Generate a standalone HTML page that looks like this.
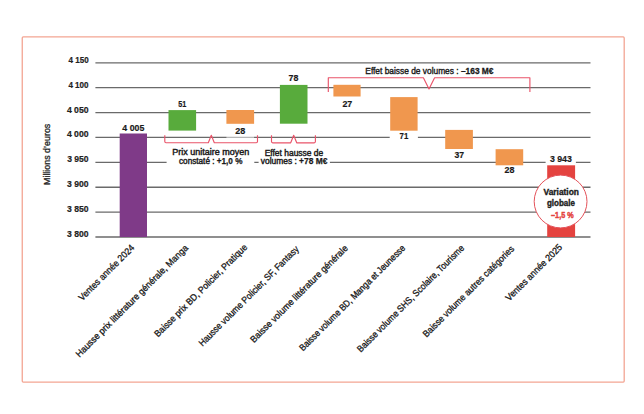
<!DOCTYPE html><html><head><meta charset="utf-8"><style>html,body{margin:0;padding:0;background:#fff;width:644px;height:414px;overflow:hidden}svg{display:block}</style></head><body>
<svg width="644" height="414" viewBox="0 0 644 414" font-family='"Liberation Sans", sans-serif'>
<rect x="0" y="0" width="644" height="414" fill="#fff"/>
<rect x="22.25" y="36.9" width="601.95" height="345.2" rx="1" fill="none" stroke="#F3A593" stroke-width="1.3"/>
<text transform="translate(50.2,185) rotate(-90)" font-size="8.6" textLength="61.3" lengthAdjust="spacingAndGlyphs" fill="#222" stroke="#222" stroke-width="0.3">Millions d’euros</text>
<line x1="95.4" y1="62.80" x2="590.5" y2="62.80" stroke="#6a6a6a" stroke-width="1.3"/>
<text x="68.50" y="62.80" font-size="9.2" font-weight="bold" textLength="20.1" lengthAdjust="spacingAndGlyphs" fill="#222" stroke="#222" stroke-width="0.2">4 150</text>
<line x1="95.4" y1="87.69" x2="590.5" y2="87.69" stroke="#6a6a6a" stroke-width="1.3"/>
<text x="68.40" y="87.69" font-size="9.2" font-weight="bold" textLength="20.2" lengthAdjust="spacingAndGlyphs" fill="#222" stroke="#222" stroke-width="0.2">4 100</text>
<line x1="95.4" y1="112.57" x2="590.5" y2="112.57" stroke="#6a6a6a" stroke-width="1.3"/>
<text x="66.90" y="112.57" font-size="9.2" font-weight="bold" textLength="21.7" lengthAdjust="spacingAndGlyphs" fill="#222" stroke="#222" stroke-width="0.2">4 050</text>
<line x1="95.4" y1="137.45" x2="590.5" y2="137.45" stroke="#6a6a6a" stroke-width="1.3"/>
<text x="66.90" y="137.45" font-size="9.2" font-weight="bold" textLength="21.7" lengthAdjust="spacingAndGlyphs" fill="#222" stroke="#222" stroke-width="0.2">4 000</text>
<line x1="95.4" y1="162.34" x2="590.5" y2="162.34" stroke="#6a6a6a" stroke-width="1.3"/>
<text x="67.20" y="162.34" font-size="9.2" font-weight="bold" textLength="21.4" lengthAdjust="spacingAndGlyphs" fill="#222" stroke="#222" stroke-width="0.2">3 950</text>
<line x1="95.4" y1="187.23" x2="590.5" y2="187.23" stroke="#6a6a6a" stroke-width="1.3"/>
<text x="67.10" y="187.23" font-size="9.2" font-weight="bold" textLength="21.5" lengthAdjust="spacingAndGlyphs" fill="#222" stroke="#222" stroke-width="0.2">3 900</text>
<line x1="95.4" y1="212.11" x2="590.5" y2="212.11" stroke="#6a6a6a" stroke-width="1.3"/>
<text x="67.10" y="212.11" font-size="9.2" font-weight="bold" textLength="21.5" lengthAdjust="spacingAndGlyphs" fill="#222" stroke="#222" stroke-width="0.2">3 850</text>
<line x1="95.4" y1="237.00" x2="590.5" y2="237.00" stroke="#6a6a6a" stroke-width="1.3"/>
<text x="67.10" y="237.00" font-size="9.2" font-weight="bold" textLength="21.5" lengthAdjust="spacingAndGlyphs" fill="#222" stroke="#222" stroke-width="0.2">3 800</text>
<rect x="166.6" y="160.34" width="87.7" height="4" fill="#fff"/>
<rect x="258.6" y="160.34" width="71.3" height="4" fill="#fff"/>
<rect x="226.4" y="135.45" width="27.7" height="4" fill="#fff" fill-opacity="0.5"/>
<rect x="389.7" y="135.45" width="28.2" height="4" fill="#fff"/>
<rect x="545.6" y="160.34" width="30.3" height="4" fill="#fff"/>
<rect x="119.7" y="133.5" width="27.30" height="103.50" fill="#7F3A88"/>
<rect x="168.5" y="110.1" width="27.60" height="20.50" fill="#58AB3C"/>
<rect x="226.4" y="110.0" width="27.70" height="13.80" fill="#F0974E"/>
<rect x="279.9" y="84.9" width="27.60" height="38.80" fill="#58AB3C"/>
<rect x="333.4" y="84.8" width="27.20" height="11.70" fill="#F0974E"/>
<rect x="390.2" y="97.1" width="27.40" height="33.60" fill="#F0974E"/>
<rect x="445.2" y="129.9" width="27.70" height="19.10" fill="#F0974E"/>
<rect x="495.6" y="149.2" width="27.60" height="16.10" fill="#F0974E"/>
<rect x="547.2" y="165.3" width="27.90" height="71.70" fill="#E4433F"/>
<text x="122.30" y="130.50" font-size="9.6" font-weight="bold" textLength="22.00" lengthAdjust="spacingAndGlyphs" fill="#1a1a1a" stroke="#1a1a1a" stroke-width="0.2">4 005</text>
<text x="178.30" y="107.20" font-size="9.6" font-weight="bold" textLength="8.10" lengthAdjust="spacingAndGlyphs" fill="#1a1a1a" stroke="#1a1a1a" stroke-width="0.2">51</text>
<text x="235.30" y="134.00" font-size="9.6" font-weight="bold" textLength="10.00" lengthAdjust="spacingAndGlyphs" fill="#1a1a1a" stroke="#1a1a1a" stroke-width="0.2">28</text>
<text x="288.50" y="80.90" font-size="9.6" font-weight="bold" textLength="9.80" lengthAdjust="spacingAndGlyphs" fill="#1a1a1a" stroke="#1a1a1a" stroke-width="0.2">78</text>
<text x="342.40" y="106.60" font-size="9.6" font-weight="bold" textLength="9.90" lengthAdjust="spacingAndGlyphs" fill="#1a1a1a" stroke="#1a1a1a" stroke-width="0.2">27</text>
<text x="399.60" y="139.20" font-size="9.6" font-weight="bold" textLength="8.70" lengthAdjust="spacingAndGlyphs" fill="#1a1a1a" stroke="#1a1a1a" stroke-width="0.2">71</text>
<text x="454.40" y="158.00" font-size="9.6" font-weight="bold" textLength="9.60" lengthAdjust="spacingAndGlyphs" fill="#1a1a1a" stroke="#1a1a1a" stroke-width="0.2">37</text>
<text x="504.60" y="173.30" font-size="9.6" font-weight="bold" textLength="9.90" lengthAdjust="spacingAndGlyphs" fill="#1a1a1a" stroke="#1a1a1a" stroke-width="0.2">28</text>
<text x="549.90" y="161.60" font-size="9.6" font-weight="bold" textLength="21.90" lengthAdjust="spacingAndGlyphs" fill="#1a1a1a" stroke="#1a1a1a" stroke-width="0.2">3 943</text>
<path d="M164.8,135.3 L164.8,141.5 Q164.8,142.7 166.0,142.7 L208.3,142.7 L211.3,135.3 L214.3,142.7 L256.3,142.7 Q257.5,142.7 257.5,141.5 L257.5,135.3" fill="none" stroke="#E9546A" stroke-width="1.15" stroke-linejoin="round"/>
<path d="M271.5,135.3 L271.5,141.60000000000002 Q271.5,142.8 272.7,142.8 L290.7,142.8 L293.7,135.3 L296.7,142.8 L314.2,142.8 Q315.4,142.8 315.4,141.60000000000002 L315.4,135.3" fill="none" stroke="#E9546A" stroke-width="1.15" stroke-linejoin="round"/>
<path d="M328.3,92.1 L328.3,77.7 L423.4,77.7 L429,88.9 L434.6,77.7 L529.9,77.7 L529.9,92.1" fill="none" stroke="#E9546A" stroke-width="1.15" stroke-linejoin="round"/>
<text x="172.2" y="155.4" font-size="8.6" textLength="77" lengthAdjust="spacingAndGlyphs" fill="#1a1a1a" stroke="#1a1a1a" stroke-width="0.42">Prix unitaire moyen</text>
<text x="179" y="164.3" font-size="8.6" textLength="63.5" lengthAdjust="spacingAndGlyphs" fill="#1a1a1a" stroke="#1a1a1a" stroke-width="0.42">constaté : <tspan font-weight="bold" stroke-width="0.25">+1,0 %</tspan></text>
<text x="264.7" y="155.6" font-size="8.6" textLength="58.6" lengthAdjust="spacingAndGlyphs" fill="#1a1a1a" stroke="#1a1a1a" stroke-width="0.42">Effet hausse de</text>
<text x="260.8" y="164.3" font-size="8.6" textLength="66.6" lengthAdjust="spacingAndGlyphs" fill="#1a1a1a" stroke="#1a1a1a" stroke-width="0.42">volumes : <tspan font-weight="bold" stroke-width="0.25">+78 M€</tspan></text>
<text x="365.3" y="74.4" font-size="9.4" textLength="128.2" lengthAdjust="spacingAndGlyphs" fill="#1a1a1a" stroke="#1a1a1a" stroke-width="0.4">Effet baisse de volumes : <tspan font-weight="bold" stroke-width="0.3">–163 M€</tspan></text>
<circle cx="560.6" cy="201.5" r="26.4" fill="#fff" stroke="#E4525A" stroke-width="1.0"/>
<text x="543.5" y="195" font-size="8.6" font-weight="bold" textLength="35.4" lengthAdjust="spacingAndGlyphs" fill="#1a1a1a" stroke="#1a1a1a" stroke-width="0.35">Variation</text>
<text x="546.9" y="206.4" font-size="8.6" font-weight="bold" textLength="28" lengthAdjust="spacingAndGlyphs" fill="#1a1a1a" stroke="#1a1a1a" stroke-width="0.35">globale</text>
<text x="551.1" y="218" font-size="9" font-weight="bold" textLength="22.5" lengthAdjust="spacingAndGlyphs" fill="#E4433F" stroke="#E4433F" stroke-width="0.45">–1,5 %</text>
<text transform="translate(135.0,248.4) rotate(-45)" text-anchor="end" font-size="9.3" textLength="74.7" lengthAdjust="spacingAndGlyphs" fill="#151515" stroke="#151515" stroke-width="0.3">Ventes année 2024</text>
<text transform="translate(188.60000000000002,248.6) rotate(-45)" text-anchor="end" font-size="9.3" textLength="154.4" lengthAdjust="spacingAndGlyphs" fill="#151515" stroke="#151515" stroke-width="0.3">Hausse prix littérature générale, Manga</text>
<text transform="translate(247.8,247.8) rotate(-45)" text-anchor="end" font-size="9.3" textLength="127.0" lengthAdjust="spacingAndGlyphs" fill="#151515" stroke="#151515" stroke-width="0.3">Baisse prix BD, Policier, Pratique</text>
<text transform="translate(299.40000000000003,249.8) rotate(-45)" text-anchor="end" font-size="9.3" textLength="137.2" lengthAdjust="spacingAndGlyphs" fill="#151515" stroke="#151515" stroke-width="0.3">Hausse volume Policier, SF, Fantasy</text>
<text transform="translate(348.40000000000003,248.8) rotate(-45)" text-anchor="end" font-size="9.3" textLength="133.6" lengthAdjust="spacingAndGlyphs" fill="#151515" stroke="#151515" stroke-width="0.3">Baisse volume littérature générale</text>
<text transform="translate(405.8,248.70000000000002) rotate(-45)" text-anchor="end" font-size="9.3" textLength="145.4" lengthAdjust="spacingAndGlyphs" fill="#151515" stroke="#151515" stroke-width="0.3">Baisse volume BD, Manga et Jeunesse</text>
<text transform="translate(464.8,248.70000000000002) rotate(-45)" text-anchor="end" font-size="9.3" textLength="147.2" lengthAdjust="spacingAndGlyphs" fill="#151515" stroke="#151515" stroke-width="0.3">Baisse volume SHS, Scolaire, Tourisme</text>
<text transform="translate(514.8,249.4) rotate(-45)" text-anchor="end" font-size="9.3" textLength="124.9" lengthAdjust="spacingAndGlyphs" fill="#151515" stroke="#151515" stroke-width="0.3">Baisse volume autres catégories</text>
<text transform="translate(562.8,247.9) rotate(-45)" text-anchor="end" font-size="9.3" textLength="75.7" lengthAdjust="spacingAndGlyphs" fill="#151515" stroke="#151515" stroke-width="0.3">Ventes année 2025</text>
</svg></body></html>
